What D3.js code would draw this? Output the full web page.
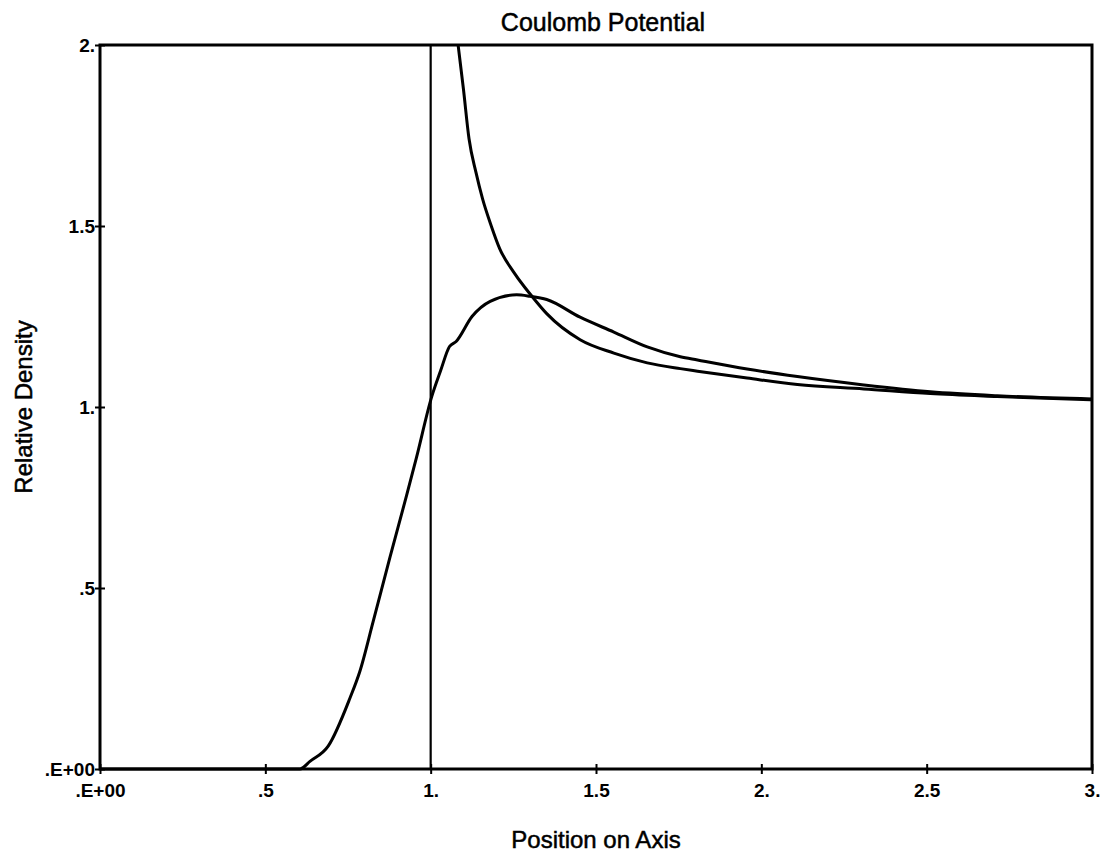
<!DOCTYPE html>
<html>
<head>
<meta charset="utf-8">
<script src="https://cdn.jsdelivr.net/npm/d3@7"></script>
<style>
  body { margin: 0; background: #fff; }
  svg { display: block; }
</style>
</head>
<body>
<div id="chart"></div>
<script>
// Tick values and their printed labels
var xTicks = [0, 0.5, 1, 1.5, 2, 2.5, 3];
var xTickLabels = [".E+00", ".5", "1.", "1.5", "2.", "2.5", "3."];
var yTicks = [0, 0.5, 1, 1.5, 2];
var yTickLabels = [".E+00", ".5", "1.", "1.5", "2."];

// Density curve (rises from ~0.6, peaks near 1.27)
var densityX = [0, 0.5, 0.605, 0.635, 0.69, 0.756, 0.786, 0.826, 0.877, 0.927, 0.957, 1.003, 1.03, 1.057, 1.077, 1.125, 1.18, 1.26, 1.30, 1.351, 1.452, 1.554, 1.655, 1.755, 1.807, 1.957, 2.109, 2.31, 2.511, 2.713, 3.0];
var densityY = [0, 0, 0, 0.021, 0.063, 0.196, 0.27, 0.407, 0.585, 0.755, 0.86, 1.028, 1.10, 1.167, 1.181, 1.25, 1.292, 1.31, 1.306, 1.297, 1.248, 1.207, 1.166, 1.139, 1.130, 1.105, 1.084, 1.061, 1.042, 1.031, 1.022];

// Coulomb curve (comes down from the top edge)
var coulombX = [1.083, 1.099, 1.116, 1.137, 1.157, 1.183, 1.209, 1.25, 1.285, 1.30, 1.351, 1.452, 1.554, 1.655, 1.755, 1.807, 1.957, 2.109, 2.31, 2.511, 2.713, 3.0];
var coulombY = [2.0, 1.879, 1.741, 1.648, 1.575, 1.501, 1.437, 1.374, 1.330, 1.313, 1.258, 1.186, 1.149, 1.122, 1.106, 1.099, 1.080, 1.062, 1.050, 1.037, 1.029, 1.020];

// Position of the wall
var wallX = 1.0;

var width = 1103;
var height = 860;
var margin = ({ top: 45, right: 11, bottom: 91, left: 100 });
var font = "'Liberation Sans', Arial, Helvetica, sans-serif";

var svg = d3.select("#chart")
    .append("svg")
    .attr("width", width)
    .attr("height", height);

var x = d3.scaleLinear()
    .domain([0, 3])
    .range([margin.left, width - margin.right]);
var y = d3.scaleLinear()
    .domain([0, 2])
    .range([height - margin.bottom, margin.top]);

// Axes, ticks drawn as small crosses over the frame
var xAxis = g => g
    .attr("transform", `translate(0,${y(0)})`)
    .call(d3.axisBottom(x).tickValues(xTicks).tickFormat((d, i) => xTickLabels[i])
        .tickSizeInner(5).tickSizeOuter(0).tickPadding(10))
    .call(g => g.select(".domain").remove())
    .call(g => g.selectAll(".tick line").attr("y1", -5).attr("stroke-width", 2))
    .call(g => g.selectAll(".tick text")
        .attr("font-size", 19)
        .attr("font-weight", "bold")
        .attr("font-family", font)
        .attr("fill", "#000"));

var yAxis = g => g
    .attr("transform", `translate(${x(0)},0)`)
    .call(d3.axisLeft(y).tickValues(yTicks).tickFormat((d, i) => yTickLabels[i])
        .tickSizeInner(5).tickSizeOuter(0).tickPadding(0))
    .call(g => g.select(".domain").remove())
    .call(g => g.selectAll(".tick line").attr("x1", 5).attr("stroke-width", 2))
    .call(g => g.selectAll(".tick text")
        .attr("font-size", 19)
        .attr("font-weight", "bold")
        .attr("font-family", font)
        .attr("fill", "#000"));

// Frame
svg.append("rect")
    .attr("x", x(0))
    .attr("y", y(2))
    .attr("width", x(3) - x(0))
    .attr("height", y(0) - y(2))
    .attr("fill", "none")
    .attr("stroke", "#000")
    .attr("stroke-width", 3);

svg.append("g").call(xAxis);
svg.append("g").call(yAxis);

// Wall line at x = 1
svg.append("line")
    .attr("x1", x(wallX))
    .attr("x2", x(wallX))
    .attr("y1", y(0))
    .attr("y2", y(2))
    .attr("stroke", "#000")
    .attr("stroke-width", 2.2);

var line = d3.line()
    .x(d => x(d[0]))
    .y(d => y(d[1]))
    .curve(d3.curveMonotoneX);

var density = densityX.map((v, i) => [v, densityY[i]]);
var coulomb = coulombX.map((v, i) => [v, coulombY[i]]);

[density, coulomb].forEach(series => {
    svg.append("path")
        .datum(series)
        .attr("fill", "none")
        .attr("stroke", "#000")
        .attr("stroke-width", 3)
        .attr("stroke-linejoin", "round")
        .attr("d", line);
});

// Titles
svg.append("text")
    .attr("x", 603)
    .attr("y", 31)
    .attr("text-anchor", "middle")
    .attr("font-family", font)
    .attr("font-size", 25)
    .attr("stroke", "#000")
    .attr("stroke-width", 0.5)
    .text("Coulomb Potential");

svg.append("text")
    .attr("x", (x(0) + x(3)) / 2)
    .attr("y", 848)
    .attr("text-anchor", "middle")
    .attr("font-family", font)
    .attr("font-size", 24)
    .attr("stroke", "#000")
    .attr("stroke-width", 0.5)
    .text("Position on Axis");

svg.append("text")
    .attr("transform", `translate(32,${(y(0) + y(2)) / 2}) rotate(-90)`)
    .attr("text-anchor", "middle")
    .attr("font-family", font)
    .attr("font-size", 24)
    .attr("stroke", "#000")
    .attr("stroke-width", 0.5)
    .text("Relative Density");
</script>
</body>
</html>
